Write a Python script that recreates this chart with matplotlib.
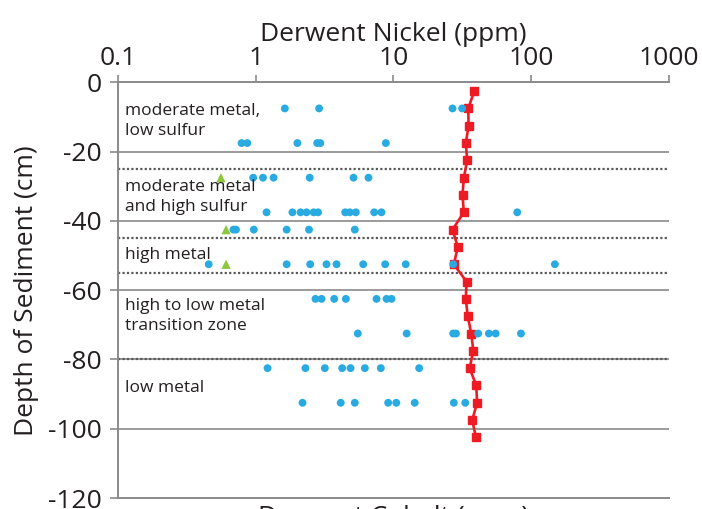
import matplotlib
matplotlib.use('Agg')
import matplotlib.pyplot as plt

plt.rcParams['font.family'] = ['Open Sans', 'DejaVu Sans']
plt.rcParams['axes.unicode_minus'] = False

TEXT = '#231f20'
GRAY = '#8a8a8a'

# Derwent cobalt profile (red squares), depth in cm
co_depth = [-2.5, -7.5, -12.5, -17.5, -22.5, -27.5, -32.5, -37.5, -42.5, -47.5, -52.5,
            -57.5, -62.5, -67.5, -72.5, -77.5, -82.5, -87.5, -92.5, -97.5, -102.5]
co_ppm = [38.7, 35.0, 35.2, 33.6, 34.4, 32.5, 31.8, 32.5, 26.9, 29.4, 27.5,
          34.0, 33.6, 34.7, 36.8, 38.1, 35.8, 40.0, 40.6, 37.4, 39.8]

# Derwent nickel (blue dots), one list per depth
ni_rows = {
    -7.5: [1.63, 2.89, 26.9, 31.6],
    -17.5: [0.79, 0.87, 2.01, 2.8, 2.95, 8.82],
    -27.5: [0.96, 1.13, 1.35, 2.47, 5.14, 6.6],
    -37.5: [1.2, 1.85, 2.12, 2.34, 2.64, 2.84, 4.47, 4.83, 5.34, 7.26, 8.2, 79.4],
    -42.5: [0.69, 0.72, 0.97, 1.68, 2.44, 5.25],
    -52.5: [0.456, 1.68, 2.49, 3.27, 3.87, 6.04, 8.72, 12.3, 27.2, 149],
    -62.5: [2.72, 3.01, 3.72, 4.52, 7.55, 8.93, 9.7],
    -72.5: [5.52, 12.5, 27.2, 28.5, 41.3, 49.4, 55.3, 84.5],
    -82.5: [1.22, 2.30, 3.18, 4.25, 4.89, 6.21, 8.11, 15.4],
    -92.5: [2.19, 4.15, 5.25, 9.17, 10.5, 14.3, 27.5, 33.3],
}

# green triangles
tri_depth = [-27.5, -42.5, -52.5]
tri_ppm = [0.56, 0.61, 0.61]

zone_bounds = [-25, -45, -55, -80]
zone_labels = ['moderate metal,\nlow sulfur', 'moderate metal\nand high sulfur',
               'high metal', 'high to low metal\ntransition zone', 'low metal']
zone_label_y = [-11.1, -33.1, -49.8, -67.4, -88.2]

x_ticks = [0.1, 1, 10, 100, 1000]
x_ticklabels = ['0.1', '1', '10', '100', '1000']
y_ticks = [0, -20, -40, -60, -80, -100, -120]

fig = plt.figure(figsize=(7.02, 5.09), dpi=100)
ax = fig.add_axes([0.168, 0.0216, 0.7846, 0.8164])

ax.set_xscale('log')
ax.set_xlim(0.1, 1000)
ax.set_ylim(-120, 0)

for yv in y_ticks[1:-1]:
    ax.axhline(yv, color=GRAY, lw=1.2, zorder=1)
for yb in zone_bounds:
    ax.axhline(yb, color='#5a5a5a', lw=1.6, ls=(0, (1, 1)), zorder=2)

ax.plot(co_ppm, co_depth, color='#ed1c24', lw=1.9, marker='s', ms=6,
        mec='#ed1c24', zorder=3)

ni_x = [v for d in ni_rows for v in ni_rows[d]]
ni_y = [d for d in ni_rows for v in ni_rows[d]]
ax.scatter(ni_x, ni_y, s=32, color='#29abe2', edgecolors='none', zorder=4)
ax.scatter(tri_ppm, tri_depth, s=45, marker='^', color='#8dc63f',
           edgecolors='none', zorder=4)

for lab, yv in zip(zone_labels, zone_label_y):
    ax.text(0.0127, yv, lab, transform=ax.get_yaxis_transform(), ha='left',
            va='center', fontsize=12.5, color=TEXT, linespacing=1.3, zorder=5)

ax.xaxis.tick_top()
ax.xaxis.set_label_position('top')
ax.set_xticks(x_ticks)
ax.set_xticklabels(x_ticklabels)
ax.minorticks_off()
ax.set_yticks(y_ticks)
ax.set_yticklabels([str(v) for v in y_ticks])
ax.tick_params(axis='x', direction='out', length=5, width=1.2, color=GRAY,
               labelsize=19, labelcolor=TEXT, pad=3)
ax.tick_params(axis='y', direction='out', length=6, width=1.2, color=GRAY,
               labelsize=19, labelcolor=TEXT, pad=6)

ax.set_xlabel('Derwent Nickel (ppm)', fontsize=19, color=TEXT, labelpad=4)
ax.set_ylabel('Depth of Sediment (cm)', fontsize=19, color=TEXT, labelpad=6)

ax.spines['right'].set_visible(False)
for side in ['top', 'bottom', 'left']:
    ax.spines[side].set_color(GRAY)
    ax.spines[side].set_linewidth(1.4)

# bottom axis title, cut off by the figure edge like the source
fig.text(0.56, 0.007, 'Derwent Cobalt (ppm)', ha='center', va='top',
         fontsize=19, color=TEXT)

fig.savefig('out.png', dpi=100)
